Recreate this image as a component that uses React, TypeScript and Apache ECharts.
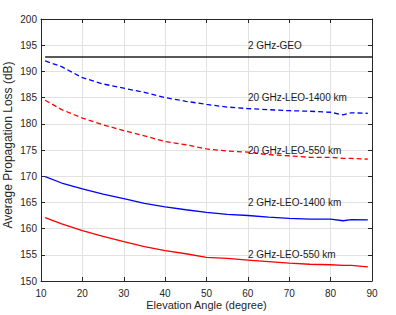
import React, { useEffect, useRef } from "react";
import * as echarts from "echarts";

const elevation = [11, 15, 20, 25, 30, 35, 40, 45, 50, 55, 60, 65, 70, 75, 80, 83, 85, 89];
const loss20GHz1400 = [192.0, 190.9, 188.8, 187.6, 186.8, 186.0, 185.0, 184.3, 183.7, 183.2, 182.9, 182.7, 182.5, 182.4, 182.2, 181.7, 182.1, 182.0];
const loss20GHz550 = [184.5, 182.7, 181.1, 179.8, 178.7, 177.7, 176.6, 176.0, 175.2, 174.8, 174.6, 174.1, 173.9, 173.6, 173.6, 173.4, 173.4, 173.25];
const loss2GHz1400 = [169.9, 168.7, 167.6, 166.6, 165.7, 164.8, 164.15, 163.6, 163.1, 162.7, 162.5, 162.2, 161.95, 161.8, 161.8, 161.5, 161.7, 161.65];
const loss2GHz550 = [162.1, 160.9, 159.6, 158.5, 157.5, 156.55, 155.8, 155.2, 154.5, 154.3, 154.0, 153.7, 153.4, 153.2, 153.1, 153.0, 153.0, 152.7];
const geoElevation = [11, 90];
const geoLoss = [192.75, 192.75];

const labelTexts = ["2 GHz-GEO", "20 GHz-LEO-1400 km", "20 GHz-LEO-550 km", "2 GHz-LEO-1400 km", "2 GHz-LEO-550 km"];
const labelX = [60, 60, 60, 60, 60];
const labelY = [195, 185, 175, 165, 155];

const xTitle = "Elevation Angle (degree)";
const yTitle = "Average Propagation Loss (dB)";

const FONT = "'Liberation Sans', Arial, Helvetica, sans-serif";
const TXT = "#262626";

export default function App() {
  const ref = useRef<HTMLDivElement>(null);
  useEffect(() => {
    document.body.style.margin = "0";
    const chart = echarts.init(ref.current!, null, { renderer: "svg" });
    const pairs = (ys: number[]) => elevation.map((x, i) => [x, ys[i]]);
    const axisCommon = {
      type: "value" as const,
      axisLine: { show: true, lineStyle: { color: TXT, width: 1 } },
      axisTick: { show: true, inside: true, length: 4, lineStyle: { color: TXT } },
    };
    chart.setOption({
      animation: false,
      backgroundColor: "#ffffff",
      textStyle: { fontFamily: FONT },
      grid: { left: 41, right: 24, top: 19, bottom: 34, containLabel: false, outerBoundsMode: "none" },
      xAxis: [
        {
          ...axisCommon,
          min: 10, max: 90, interval: 10,
          position: "bottom",
          axisLabel: { fontSize: 10, color: TXT, margin: 7, fontFamily: FONT },
          splitLine: { show: true, lineStyle: { color: "#e2e2e2", width: 1 } },
        },
        {
          ...axisCommon,
          min: 10, max: 90, interval: 10,
          position: "top",
          axisLabel: { show: false },
          splitLine: { show: false },
        },
      ],
      yAxis: [
        {
          ...axisCommon,
          min: 150, max: 200, interval: 5,
          position: "left",
          axisLabel: { fontSize: 10, color: TXT, margin: 4, fontFamily: FONT },
          splitLine: { show: true, lineStyle: { color: "#e2e2e2", width: 1 } },
        },
        {
          ...axisCommon,
          min: 150, max: 200, interval: 5,
          position: "right",
          axisLabel: { show: false },
          splitLine: { show: false },
        },
      ],
      series: [
        {
          type: "line", name: "2 GHz-GEO",
          data: geoElevation.map((x, i) => [x, geoLoss[i]]),
          showSymbol: false, symbol: "none",
          lineStyle: { color: "#222222", width: 1.3 },
        },
        {
          type: "line", name: "20 GHz-LEO-1400 km", data: pairs(loss20GHz1400),
          showSymbol: false, symbol: "none",
          lineStyle: { color: "#0000ff", width: 1.3, type: [5, 3] },
        },
        {
          type: "line", name: "20 GHz-LEO-550 km", data: pairs(loss20GHz550),
          showSymbol: false, symbol: "none",
          lineStyle: { color: "#ff0000", width: 1.3, type: [5, 3] },
        },
        {
          type: "line", name: "2 GHz-LEO-1400 km", data: pairs(loss2GHz1400),
          showSymbol: false, symbol: "none",
          lineStyle: { color: "#0000ff", width: 1.3 },
        },
        {
          type: "line", name: "2 GHz-LEO-550 km", data: pairs(loss2GHz550),
          showSymbol: false, symbol: "none",
          lineStyle: { color: "#ff0000", width: 1.3 },
        },
      ],
    });
    const texts: any[] = labelTexts.map((t, i) => {
      const p = chart.convertToPixel({ xAxisIndex: 0, yAxisIndex: 0 }, [labelX[i], labelY[i]]) as number[];
      return {
        type: "text",
        x: p[0],
        y: p[1],
        z: 100,
        silent: true,
        style: {
          text: t,
          fill: "#1a1a1a",
          font: `10px ${FONT}`,
          align: "left",
          verticalAlign: "middle",
        },
      };
    });
    texts.push({
      type: "text",
      x: 206.5,
      y: 305,
      silent: true,
      style: { text: xTitle, fill: TXT, font: `11px ${FONT}`, align: "center", verticalAlign: "middle" },
    });
    texts.push({
      type: "text",
      x: 8,
      y: 145,
      rotation: Math.PI / 2,
      silent: true,
      style: { text: yTitle, fill: TXT, font: `12px ${FONT}`, align: "center", verticalAlign: "middle" },
    });
    chart.setOption({ graphic: texts });
    return () => chart.dispose();
  }, []);
  return <div ref={ref} style={{ width: 396, height: 315 }} />;
}
